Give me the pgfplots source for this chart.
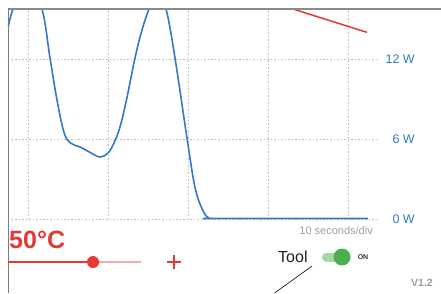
\documentclass[border=0pt]{standalone}
\usepackage{pgfplots}
\pgfplotsset{compat=1.18}
\usepackage{fontspec}
\setmainfont{Liberation Sans}
\definecolor{cblue}{HTML}{3478C6}
\definecolor{cred}{HTML}{E53935}
\definecolor{cpink}{HTML}{F4AAAA}
\definecolor{cgrid}{HTML}{BDBDBD}
\definecolor{cframe}{HTML}{8A8A8A}
\definecolor{ctext}{HTML}{9E9E9E}
\definecolor{cgreen}{HTML}{4CAF50}
\definecolor{cgreenl}{HTML}{A5D6A7}
\begin{document}
\begin{tikzpicture}[x=1pt,y=1pt]
\useasboundingbox (0,0) rectangle (441,293);
\begin{axis}[
  scale only axis,
  width=371pt, height=210pt,
  at={(8pt,74pt)}, anchor=south west,
  xmin=-2.5, xmax=43.875,
  ymin=0, ymax=15.75,
  xtick={0,10,20,30,40}, xticklabels={},
  ytick={0,6,12}, yticklabels={0 W,6 W,12 W},
  yticklabel pos=right,
  yticklabel style={anchor=east, inner sep=0pt, xshift=36pt, text=cblue, font=\fontsize{12.5}{14}\selectfont},
  axis line style={draw=none},
  tick style={draw=none},
  major tick length=0pt,
  grid=major,
  major grid style={cgrid, line width=0.8pt, dash pattern=on 1.5pt off 2pt},
]
\addplot[cblue, line width=1.6pt, smooth, tension=0.6] coordinates {
(-2.5,14.325) (-1.875,15.75) (-0.125,18.3)
(1.75,15.75) (2.75,12.075) (3.625,8.925) (4.5,6.5)
(5.3,5.7) (6.5,5.4) (7.75,5.0) (9.0,4.65)
(10.0,4.95) (10.75,5.7) (11.5,6.9) (12.3,8.9)
(13.375,12.075) (14.25,14.175) (15.125,15.75) (16.125,17.025)
(17.25,15.75) (18.375,12.075) (19.875,6.075) (20.9,2.3)
(21.9,0.6) (22.6,0.08) (23.5,0.04) (42.5,0.04)
};
\addplot[cred, line width=1.5pt] coordinates {(30.25,16.29) (42.375,14.0)};
\end{axis}
% frame lines
\draw[cframe, line width=1.5pt] (8,284) -- (441,284);
\draw[cframe!90!black, line width=0.9pt] (8,0) -- (8,284.75);
% annotations
\node[anchor=base east, inner sep=0pt, text=ctext, font=\fontsize{11}{13}\selectfont] at (373,59) {10 seconds/div};
\node[anchor=base west, inner sep=0pt, text=cred, font=\bfseries\fontsize{25}{28}\selectfont] at (9,45) {50°C};
% slider
\draw[cpink, line width=2pt] (93,31) -- (141,31);
\draw[cred, line width=2pt] (8,31) -- (93,31);
\fill[cred] (93,31) circle (6);
\draw[cred, line width=1.5pt] (167,31) -- (181,31) (174,24) -- (174,38);
% toggle
\node[anchor=base west, inner sep=0pt, text=black!87, font=\fontsize{16}{18}\selectfont] at (278,31) {Tool};
\draw[cgreenl, line width=9pt, line cap=round] (326.5,36) -- (344,36);
\fill[cgreen] (342,36) circle (8.5);
\node[inner sep=0pt, text=black!80, font=\bfseries\fontsize{7}{8}\selectfont] at (363,36) {ON};
\draw[black, line width=0.6pt] (312,27) -- (274.6,0);
\node[anchor=base east, inner sep=0pt, text=ctext, font=\bfseries\fontsize{10.5}{12}\selectfont] at (433,7) {V1.2};
\end{tikzpicture}
\end{document}
